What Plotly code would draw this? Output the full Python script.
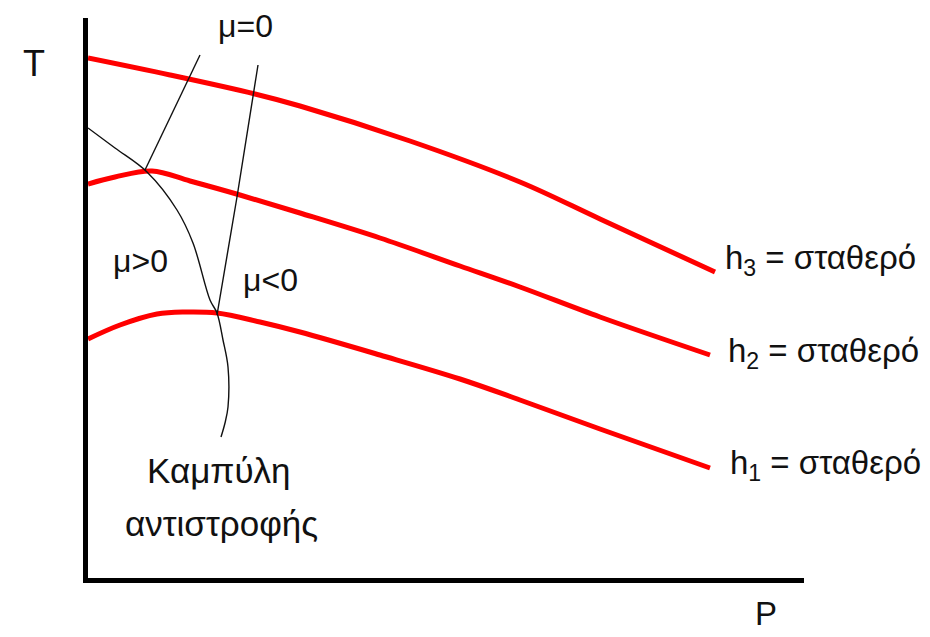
import plotly.graph_objects as go

# Isenthalpic curves T(P) for three constant enthalpies
h3_p = [0, 82, 167, 212, 322, 432, 512, 627]
h3_t = [520, 503, 484, 472, 437, 396, 359, 306]

h2_p = [0, 27, 64, 102, 152, 212, 292, 372, 432, 512, 622]
h2_t = [394, 401, 407, 397, 383, 365, 340, 312, 291, 261, 223]

h1_p = [0, 32, 69, 97, 129, 172, 212, 292, 372, 432, 512, 622]
h1_t = [239, 253, 264, 266, 265, 256, 246, 223, 199, 178, 149, 110]

# Inversion curve
inv_p = [0, 27, 59, 89, 105, 122, 129, 135, 140, 140, 137, 133]
inv_t = [450, 430, 406, 368, 335, 278, 265, 238, 211, 171, 155, 141]

# Lines of zero Joule-Thomson coefficient
mu0a_p = [112, 57]
mu0a_t = [523, 408]
mu0b_p = [170, 149, 129]
mu0b_t = [513, 381, 263]

iso_labels = ["h<sub>3</sub> = σταθερό", "h<sub>2</sub> = σταθερό", "h<sub>1</sub> = σταθερό"]
iso_label_p = [635, 638, 640]
iso_label_t = [318, 225, 113]

FONT = "Liberation Sans, Arial, sans-serif"
TXT = "#111111"

fig = go.Figure()

for p, t in [(h3_p, h3_t), (h2_p, h2_t), (h1_p, h1_t)]:
    fig.add_trace(go.Scatter(x=p, y=t, mode="lines",
                             line=dict(color="#ff0000", width=5, shape="spline", smoothing=1.0),
                             hoverinfo="skip", showlegend=False))

for p, t in [(inv_p, inv_t), (mu0a_p, mu0a_t), (mu0b_p, mu0b_t)]:
    fig.add_trace(go.Scatter(x=p, y=t, mode="lines",
                             line=dict(color="#111111", width=1.4, shape="spline"),
                             hoverinfo="skip", showlegend=False))

annotations = []
for txt, p, t in zip(iso_labels, iso_label_p, iso_label_t):
    annotations.append(dict(x=p, y=t, text=txt, xanchor="left", yanchor="middle",
                            showarrow=False, font=dict(family=FONT, size=33, color=TXT)))

for txt, p, t, sz in [("μ=0", 157, 552, 32), ("μ>0", 52, 317, 32), ("μ<0", 182, 298, 32),
                      ("Καμπύλη", 131, 108, 35), ("αντιστροφής", 133, 55, 35)]:
    annotations.append(dict(x=p, y=t, text=txt, xanchor="center", yanchor="middle",
                            showarrow=False, font=dict(family=FONT, size=sz, color=TXT)))

# Axis names sit outside the plotting area, so they are placed in paper units
for txt, px, py, sz in [("T", -0.0754, 0.918, 36), ("P", 0.947, -0.064, 33)]:
    annotations.append(dict(x=px, y=py, xref="paper", yref="paper", text=txt,
                            xanchor="center", yanchor="middle", showarrow=False,
                            font=dict(family=FONT, size=sz, color=TXT)))

fig.update_layout(
    width=930, height=637,
    margin=dict(l=88, r=126, t=18, b=59),
    paper_bgcolor="white", plot_bgcolor="white",
    annotations=annotations,
    xaxis=dict(range=[0, 716], showgrid=False, zeroline=False, showticklabels=False,
               ticks="", showline=True, linecolor="black", linewidth=5),
    yaxis=dict(range=[0, 560], showgrid=False, zeroline=False, showticklabels=False,
               ticks="", showline=True, linecolor="black", linewidth=5),
)

fig.write_html("out.html")
